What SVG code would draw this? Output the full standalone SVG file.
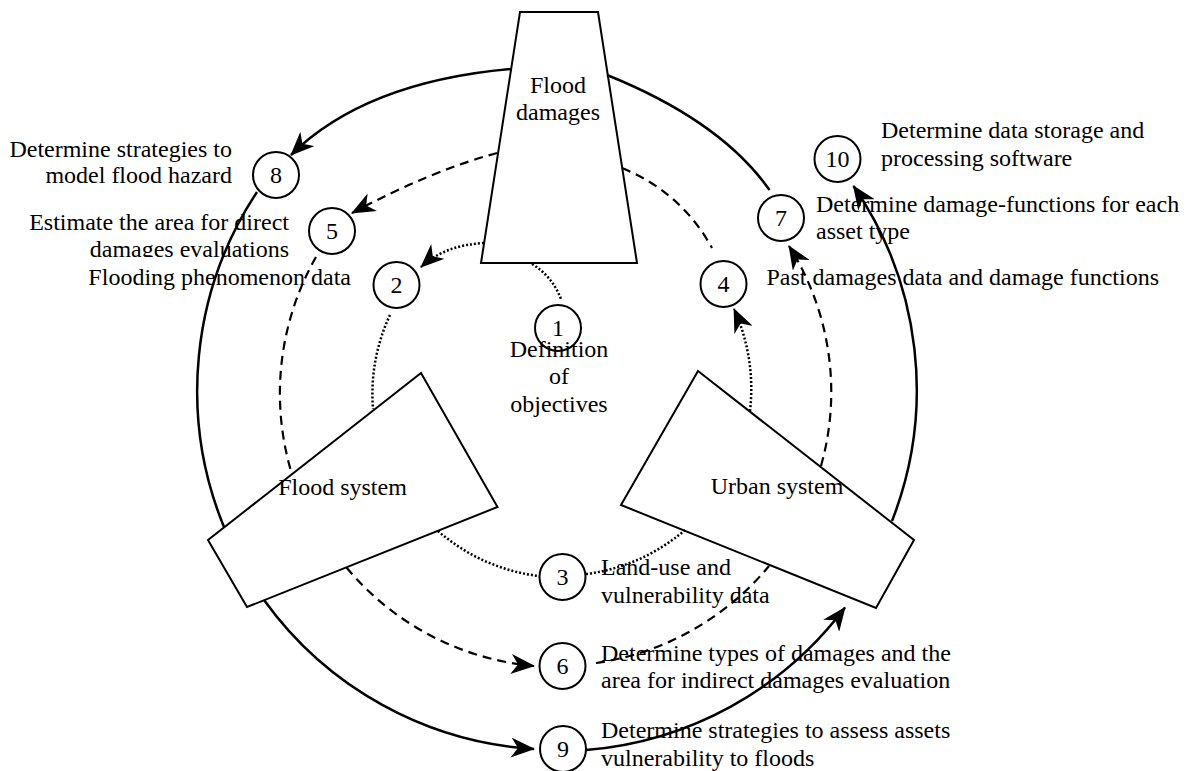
<svg xmlns="http://www.w3.org/2000/svg" width="1189" height="771" viewBox="0 0 1189 771" font-family="'Liberation Serif', 'Times New Roman', 'DejaVu Serif', serif" font-size="24">
<style>
  .shape { fill: #fff; stroke: #000; stroke-width: 2; }
  .num { fill: #fff; stroke: #000; stroke-width: 2; }
  text { font-family: 'Liberation Serif', 'Times New Roman', 'DejaVu Serif', serif; font-size: 24px; fill: #000; }
  .c { text-anchor: middle; }
  .r { text-anchor: end; }
  .solid { fill: none; stroke: #000; stroke-width: 2.5; }
  .dash { fill: none; stroke: #000; stroke-width: 2.2; stroke-dasharray: 9 6; }
  .dot { fill: none; stroke: #000; stroke-width: 2.5; stroke-dasharray: 2 2; }
  .arr { marker-end: url(#arrow); }
</style>
<defs>
  <marker id="arrow" viewBox="0 0 24 20" refX="23" refY="10" markerWidth="24" markerHeight="20" markerUnits="userSpaceOnUse" orient="auto">
    <path d="M0,0 L24,10 L0,20 L7,10 Z" fill="#000" stroke="none"/>
  </marker>
  <clipPath id="clip5"><rect x="0" y="0" width="400" height="257"/></clipPath>
</defs>
<rect width="1189" height="771" fill="#fff"/>

<g id="flood-damages">
  <polygon class="shape" points="520,12 598,12 637,263 481,263"/>
  <text class="c" x="558" y="93">Flood</text>
  <text class="c" x="558" y="120">damages</text>
</g>
<g id="flood-system">
  <polygon class="shape" points="421,373 497.5,507 247,607 208,540"/>
  <text class="c" x="342.5" y="495">Flood system</text>
</g>
<g id="urban-system">
  <polygon class="shape" points="698,371 914,540 876,608 621,505"/>
  <text class="c" x="777" y="494">Urban system</text>
</g>

<g id="step1">
  <circle class="num" cx="558" cy="328" r="23"/>
  <text class="c" x="558" y="336">1</text>
  <text class="c" x="559" y="357">Definition</text>
  <text class="c" x="559" y="384">of</text>
  <text class="c" x="559" y="412">objectives</text>
</g>
<g id="step2">
  <circle class="num" cx="396.5" cy="285" r="23"/>
  <text class="c" x="396.5" y="293">2</text>
  <text class="r" x="351" y="285">Flooding phenomenon data</text>
</g>
<g id="step3">
  <circle class="num" cx="562.5" cy="577" r="23"/>
  <text class="c" x="562.5" y="585">3</text>
  <text x="601" y="575">Land-use and</text>
  <text x="601" y="603">vulnerability data</text>
</g>
<g id="step4">
  <circle class="num" cx="723.5" cy="284" r="23"/>
  <text class="c" x="723.5" y="292">4</text>
  <text x="766.5" y="285">Past damages data and damage functions</text>
</g>
<g id="step5">
  <circle class="num" cx="332" cy="231" r="23"/>
  <text class="c" x="332" y="239">5</text>
  <g clip-path="url(#clip5)">
    <text class="r" x="289" y="230">Estimate the area for direct</text>
    <text class="r" x="289" y="257">damages evaluations</text>
  </g>
</g>
<g id="step6">
  <circle class="num" cx="562.5" cy="666" r="23"/>
  <text class="c" x="562.5" y="674">6</text>
  <text x="601" y="661">Determine types of damages and the</text>
  <text x="601" y="688">area for indirect damages evaluation</text>
</g>
<g id="step7">
  <circle class="num" cx="781" cy="218" r="23"/>
  <text class="c" x="781" y="226">7</text>
  <text x="816" y="212">Determine damage-functions for each</text>
  <text x="816" y="239">asset type</text>
</g>
<g id="step8">
  <circle class="num" cx="276" cy="175" r="23"/>
  <text class="c" x="276" y="183">8</text>
  <text class="r" x="232" y="157">Determine strategies to</text>
  <text class="r" x="232" y="183">model flood hazard</text>
</g>
<g id="step9">
  <circle class="num" cx="563" cy="749" r="23"/>
  <text class="c" x="563" y="757">9</text>
  <text x="601" y="738">Determine strategies to assess assets</text>
  <text x="601" y="766">vulnerability to floods</text>
</g>
<g id="step10">
  <circle class="num" cx="837.5" cy="159" r="23"/>
  <text class="c" x="837.5" y="167">10</text>
  <text x="881" y="138">Determine data storage and</text>
  <text x="881" y="166">processing software</text>
</g>

<g id="connectors">
  <path class="solid arr" d="M511,69 Q365,82 291,155"/>
  <path class="solid" d="M607,75 Q721,121 769.5,190"/>
  <path class="solid" d="M257,192 A360,360 0 0 0 224,527"/>
  <path class="solid arr" d="M264,600 A360,360 0 0 0 534,749"/>
  <path class="solid arr" d="M586,750 A360,360 0 0 0 845,607.5"/>
  <path class="solid arr" d="M892,521 A360,360 0 0 0 853.5,186"/>
  <path class="dash arr" d="M497,153 Q433,170 352,213"/>
  <path class="dash" d="M622,168 Q681,192 712,248"/>
  <path class="dash" d="M316,257 A276,276 0 0 0 291,471"/>
  <path class="dash arr" d="M346.5,567.5 A276,276 0 0 0 534,666"/>
  <path class="dash" d="M596,663 A276,276 0 0 0 769,566"/>
  <path class="dash arr" d="M821,466 A273,273 0 0 0 789,246"/>
  <path class="dot arr" d="M484,243 Q445,245 421,267"/>
  <path class="dot" d="M532,264 Q552,276 561,299"/>
  <path class="dot" d="M390,315 A186,186 0 0 0 373,409"/>
  <path class="dot" d="M438,531 A187,187 0 0 0 539,576"/>
  <path class="dot" d="M586,574 A187,187 0 0 0 685,530"/>
  <path class="dot arr" d="M750,411 A193,193 0 0 0 734,309"/>
</g>
</svg>
